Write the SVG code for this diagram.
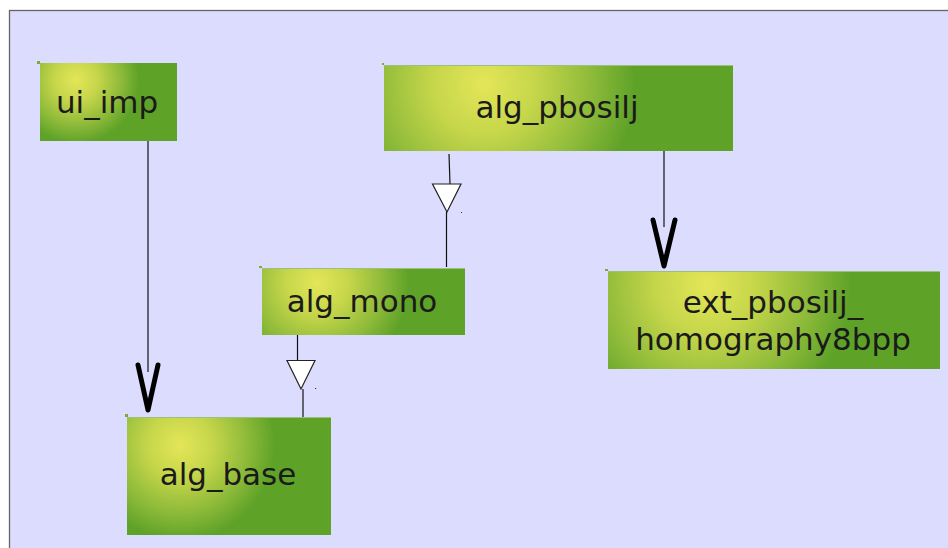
<svg xmlns="http://www.w3.org/2000/svg" width="948" height="548" viewBox="0 0 948 548">
  <defs>
    <!-- shared colour ramp for every node fill -->
    <radialGradient id="nodeStops">
      <stop offset="0" stop-color="#e4e658"/>
      <stop offset="0.3" stop-color="#c6d64a"/>
      <stop offset="0.62" stop-color="#8fbb3a"/>
      <stop offset="0.88" stop-color="#5ea228"/>
      <stop offset="1" stop-color="#5ea228"/>
    </radialGradient>
    <radialGradient id="g_ui_imp" href="#nodeStops" gradientUnits="userSpaceOnUse" cx="76" cy="80" r="72"/>
    <radialGradient id="g_alg_pbosilj" href="#nodeStops" gradientUnits="userSpaceOnUse" cx="484" cy="84" r="172"/>
    <radialGradient id="g_alg_mono" href="#nodeStops" gradientUnits="userSpaceOnUse" cx="317" cy="283" r="105"/>
    <radialGradient id="g_alg_base" href="#nodeStops" gradientUnits="userSpaceOnUse" cx="180" cy="445" r="108"/>
    <radialGradient id="g_ext" href="#nodeStops" gradientUnits="userSpaceOnUse" cx="706" cy="285" r="165"/>
  </defs>
  <style>
    .edge { stroke: #9cbf80; stroke-width: 1; }
    .corner { fill: #7aaa3a; }
    .label { font-family: "DejaVu Sans", "Liberation Sans", sans-serif; font-size: 31px; fill: #1a1a1a; text-anchor: middle; }
    .line { stroke: #111; stroke-width: 1.2; fill: none; }
    .vhead { stroke: #000; stroke-width: 5; fill: none; stroke-linecap: round; stroke-linejoin: round; }
    .tri { fill: #fff; stroke: #222; stroke-width: 1.2; }
    .dot { fill: #333; }
  </style>

  <!-- canvas -->
  <rect x="0" y="0" width="948" height="548" fill="#ffffff"/>
  <rect x="9.5" y="10.5" width="950" height="550" fill="#dcdcfe" stroke="#666666" stroke-width="1.3"/>

  <!-- connectors -->
  <g id="connectors">
    <!-- ui_imp to alg_base -->
    <line class="line" x1="148" y1="141" x2="148" y2="372" stroke="#555"/>
    <polyline class="vhead" points="138,365 148,410 158,365"/>
    <!-- alg_pbosilj to ext_pbosilj_homography8bpp -->
    <line class="line" x1="664" y1="151" x2="664" y2="227"/>
    <polyline class="vhead" points="653,220 664,266 675,220"/>
    <!-- alg_mono to alg_pbosilj -->
    <line class="line" x1="449" y1="154" x2="450" y2="184"/>
    <polygon class="tri" points="432.5,184 461,184 447,212"/>
    <line class="line" x1="446.5" y1="212" x2="446.5" y2="267"/>
    <rect class="dot" x="461" y="212" width="1" height="1"/>
    <!-- alg_base to alg_mono -->
    <line class="line" x1="297.5" y1="335" x2="297.5" y2="360"/>
    <polygon class="tri" points="287,360.5 315,360.5 301,389"/>
    <line class="line" x1="303" y1="389" x2="303" y2="417"/>
    <line x1="303" y1="417" x2="303" y2="428" stroke="#4a8a20" stroke-width="1"/>
    <rect class="dot" x="315" y="388" width="1.2" height="1"/>
  </g>

  <g id="ui_imp">
    <rect x="40" y="63" width="137" height="78" fill="url(#g_ui_imp)"/>
    <rect class="corner" x="37" y="61" width="3" height="3"/>
    <text class="label" x="107" y="113">ui_imp</text>
  </g>

  <g id="alg_pbosilj">
    <rect x="384" y="65" width="349" height="86" fill="url(#g_alg_pbosilj)"/>
    <line class="edge" x1="384" y1="65.5" x2="733" y2="65.5"/>
    <rect class="corner" x="382" y="63" width="2" height="2"/>
    <text class="label" x="557" y="118">alg_pbosilj</text>
  </g>

  <g id="alg_mono">
    <rect x="262" y="268" width="203" height="67" fill="url(#g_alg_mono)"/>
    <line class="edge" x1="262" y1="268.5" x2="465" y2="268.5"/>
    <rect class="corner" x="259" y="266" width="3" height="2"/>
    <text class="label" x="362" y="312">alg_mono</text>
  </g>

  <g id="alg_base">
    <rect x="127" y="417" width="204" height="118" fill="url(#g_alg_base)"/>
    <line class="edge" x1="127" y1="417.5" x2="331" y2="417.5"/>
    <rect class="corner" x="125" y="414" width="3" height="3"/>
    <text class="label" x="228" y="485">alg_base</text>
  </g>

  <g id="ext_pbosilj_homography8bpp">
    <rect x="608" y="271" width="332" height="98" fill="url(#g_ext)"/>
    <line class="edge" x1="608" y1="271.5" x2="940" y2="271.5"/>
    <rect class="corner" x="605" y="269" width="3" height="2"/>
    <text class="label" x="773" y="313">ext_pbosilj_</text>
    <text class="label" x="773" y="350">homography8bpp</text>
  </g>
</svg>
